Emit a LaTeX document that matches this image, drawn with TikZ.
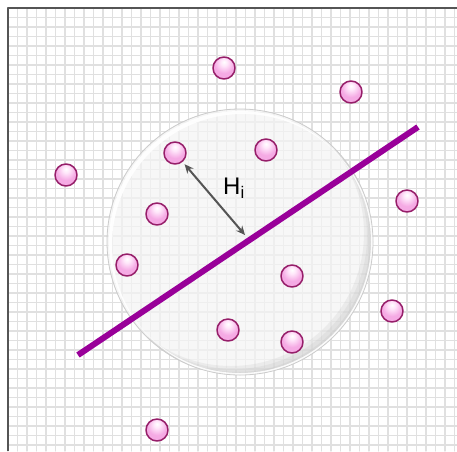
\documentclass[tikz,border=0pt]{standalone}
\usepackage{fontspec}
\setmainfont{Liberation Sans}
\usepackage{tikz}
\usetikzlibrary{arrows.meta}

\definecolor{gridgray}{RGB}{224,224,224}
\definecolor{framegray}{RGB}{85,85,85}
\definecolor{linepurple}{RGB}{153,0,153}
\definecolor{ballhi}{RGB}{255,230,250}
\definecolor{ballpink}{RGB}{245,170,228}
\definecolor{balldark}{RGB}{215,100,180}
\definecolor{ballrim}{RGB}{150,30,105}
\definecolor{arrowgray}{RGB}{85,85,85}

\pgfdeclareradialshading{pinkball}{\pgfqpoint{0bp}{14bp}}{%
	color(0bp)=(white); color(8bp)=(ballhi); color(22bp)=(ballpink);
	color(45bp)=(ballpink); color(62bp)=(balldark); color(80bp)=(balldark)}

\tikzset{
	ballnode/.style={circle, minimum size=22pt, inner sep=0pt, draw=ballrim,
		line width=1.5pt, shading=pinkball},
	gridline/.style={gridgray, line width=1.3pt}
}

\begin{document}
\begin{tikzpicture}[
				x=1pt, y=-1pt,
				line cap=round,
				line join=round
				]
				\useasboundingbox (0,0) rectangle (457,451);
				\fill[white] (0,0) rectangle (457,451);
				
				% Grid
				\foreach \gx in {0,...,47}
					\draw[gridline] ({8+9.5*\gx},8) -- ({8+9.5*\gx},451);
				\foreach \gy in {0,...,46}
					\draw[gridline] (8,{8+9.5*\gy}) -- (457,{8+9.5*\gy});
				\draw[framegray, line width=2pt, line cap=butt] (8,451) -- (8,8) -- (457,8);
				
				% Disc
				\fill[gray!9, opacity=0.7] (240,242) circle (133);
				\begin{scope}
					\clip (240,242) circle (133);
					\foreach \dd in {3,6,9}
						\fill[gray!70, opacity=0.14, even odd rule] (240,242) circle (133) ({240-\dd},{242-\dd}) circle (133);
					\fill[white, opacity=0.9, even odd rule] (240,242) circle (131) (243,245) circle (131);
				\end{scope}
				\draw[gray!40, line width=0.8pt] (240,242) circle (133);
				
				% Separating line
				\coordinate (l1) at (78,355);
				\coordinate (l2) at (418,127);
				\draw[linepurple, line width=6pt, line cap=butt] (l1) -- (l2);
				
				% Points
				\node[ballnode] (b1) at (224,68) {};
				\node[ballnode] (b2) at (351,92) {};
				\node[ballnode] (b3) at (66,175) {};
				\node[ballnode] (b4) at (175,153) {};
				\node[ballnode] (b5) at (266,150) {};
				\node[ballnode] (b6) at (407,201) {};
				\node[ballnode] (b7) at (157,214) {};
				\node[ballnode] (b8) at (127,265) {};
				\node[ballnode] (b9) at (292,276) {};
				\node[ballnode] (b10) at (392,311) {};
				\node[ballnode] (b11) at (228,330) {};
				\node[ballnode] (b12) at (292,342) {};
				\node[ballnode] (b13) at (157,430) {};
				
				% Distance
				\coordinate (hB) at (245,235);
				\draw[arrowgray, line width=2pt, {Stealth[length=9pt,width=8pt]}-{Stealth[length=9pt,width=8pt]}, shorten <=3pt] (b4) -- (hB);
				\node[font=\fontsize{24}{28}\selectfont] (hlabel) at (234,188) {H\textsubscript{i}};
			\end{tikzpicture}
\end{document}
